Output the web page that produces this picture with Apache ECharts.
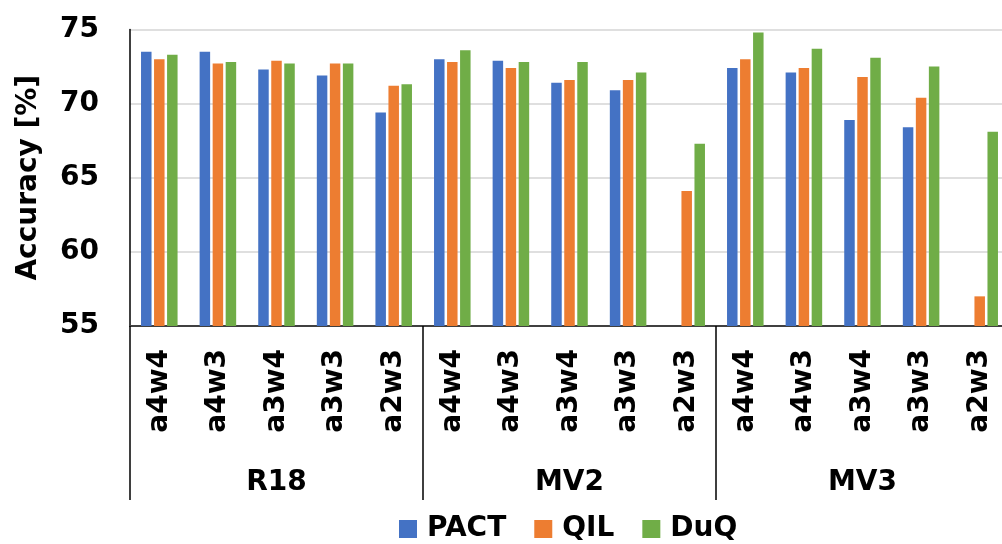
<!DOCTYPE html>
<html>
<head>
<meta charset="utf-8">
<style>
  html, body { margin: 0; padding: 0; background: #fff; }
  #chart { width: 1002px; height: 544px; }
</style>
<script src="https://cdn.jsdelivr.net/npm/echarts@6/dist/echarts.min.js"></script>
</head>
<body>
<div id="chart"></div>
<script>
// Quantization settings per network, grouped R18 / MV2 / MV3
const configs = ['a4w4', 'a4w3', 'a3w4', 'a3w3', 'a2w3',
                 'a4w4', 'a4w3', 'a3w4', 'a3w3', 'a2w3',
                 'a4w4', 'a4w3', 'a3w4', 'a3w3', 'a2w3'];
const networks = ['R18', 'MV2', 'MV3'];
const yTicks = [55, 60, 65, 70, 75];

// Top-1 accuracy (%) per method; '-' = no result reported
const pact = [73.5, 73.5, 72.3, 71.9, 69.4,
              73.0, 72.9, 71.4, 70.9, '-',
              72.4, 72.1, 68.9, 68.4, '-'];
const qil  = [73.0, 72.7, 72.9, 72.7, 71.2,
              72.8, 72.4, 71.6, 71.6, 64.1,
              73.0, 72.4, 71.8, 70.4, 57.0];
const duq  = [73.3, 72.8, 72.7, 72.7, 71.3,
              73.6, 72.8, 72.8, 72.1, 67.3,
              74.8, 73.7, 73.1, 72.5, 68.1];

const FONT = '"DejaVu Sans", Verdana, sans-serif';
const bold = { fontFamily: FONT, fontWeight: 'bold', color: '#000' };

const chart = echarts.init(document.getElementById('chart'), null, { renderer: 'canvas' });

function barSeries(name, data, color) {
  return {
    name: name,
    type: 'bar',
    data: data,
    barWidth: 10.5,
    barGap: '24%',
    itemStyle: { color: color }
  };
}

chart.setOption({
  animation: false,
  backgroundColor: '#fff',
  grid: { left: 130, right: -7, top: 29.5, bottom: 218, containLabel: false, outerBoundsMode: 'none' },
  legend: {
    left: 399,
    top: 515,
    padding: 0,
    itemWidth: 18,
    itemHeight: 18,
    itemGap: 28,
    icon: 'rect',
    textStyle: Object.assign({ fontSize: 28, padding: [0, 0, 0, 5] }, bold),
    data: ['PACT', 'QIL', 'DuQ']
  },
  xAxis: [
    {
      type: 'category',
      data: configs,
      position: 'bottom',
      axisLine: { show: true, lineStyle: { color: '#404040', width: 2 } },
      axisTick: { show: false },
      axisLabel: Object.assign({ rotate: 90, fontSize: 28, margin: 23, interval: 0 }, bold),
      splitLine: { show: false }
    },
    {
      type: 'category',
      data: networks,
      position: 'bottom',
      axisLine: { show: false },
      axisTick: { show: true, length: 174, lineStyle: { color: '#000', width: 1.5 } },
      axisLabel: Object.assign({ fontSize: 28, margin: 143, interval: 0 }, bold),
      splitLine: { show: false }
    }
  ],
  yAxis: {
    type: 'value',
    min: yTicks[0],
    max: yTicks[yTicks.length - 1],
    interval: 5,
    name: 'Accuracy [%]',
    nameLocation: 'middle',
    nameRotate: 90,
    nameGap: 87,
    nameTextStyle: Object.assign({ fontSize: 28 }, bold),
    axisLine: { show: true, lineStyle: { color: '#000', width: 1.5 } },
    axisTick: { show: false },
    axisLabel: Object.assign({ fontSize: 28, margin: 31 }, bold),
    splitLine: { show: true, lineStyle: { color: '#d4d4d4', width: 1.5 } }
  },
  series: [
    barSeries('PACT', pact, '#4472C4'),
    barSeries('QIL', qil, '#ED7D31'),
    barSeries('DuQ', duq, '#70AD47')
  ]
});
</script>
</body>
</html>
